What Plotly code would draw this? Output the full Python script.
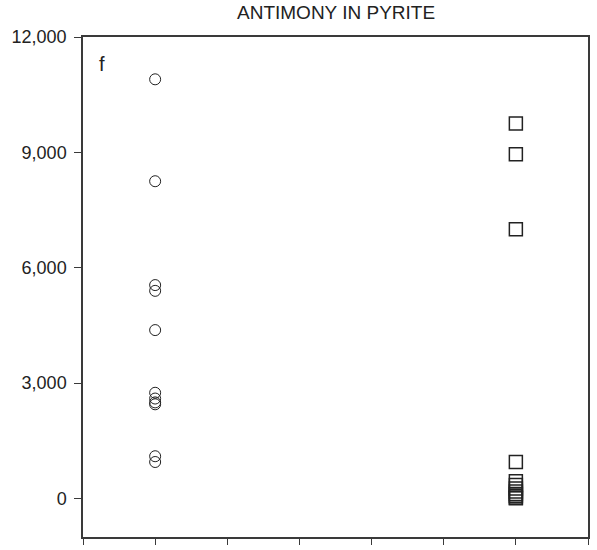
import plotly.graph_objects as go

# Antimony concentrations in pyrite for two sample groups
circle_values = [10900, 8250, 5550, 5400, 4380, 2750, 2600, 2500, 2450, 1100, 950]
square_values = [9750, 8950, 7000, 950, 450, 350, 260, 180, 120, 70, 30, 10]
circle_x = 1
square_x = 6

y_ticks = [0, 3000, 6000, 9000, 12000]
y_tick_labels = ["0", "3,000", "6,000", "9,000", "12,000"]
x_ticks = [0, 1, 2, 3, 4, 5, 6, 7]

axis_color = "#3a3a3a"
font_family = "Liberation Sans, Arial, sans-serif"

fig = go.Figure()
fig.add_trace(go.Scatter(
    x=[circle_x] * len(circle_values), y=circle_values, mode="markers",
    marker=dict(symbol="circle-open", size=11, color="#222222",
                line=dict(width=1, color="#222222")),
    showlegend=False,
))
fig.add_trace(go.Scatter(
    x=[square_x] * len(square_values), y=square_values, mode="markers",
    marker=dict(symbol="square-open", size=13, color="#222222",
                line=dict(width=1.5, color="#222222")),
    showlegend=False,
))

fig.update_layout(
    width=597, height=550,
    margin=dict(l=83, r=7, t=37, b=13),
    paper_bgcolor="white", plot_bgcolor="white",
    font=dict(family=font_family, size=18, color="#222222"),
    xaxis=dict(range=[0, 7], tickvals=x_ticks, showticklabels=False,
               ticks="outside", ticklen=6, tickwidth=1.2, tickcolor=axis_color,
               showline=True, linecolor=axis_color, linewidth=1.5, mirror=True,
               showgrid=False, zeroline=False),
    yaxis=dict(range=[-1000, 12000], tickvals=y_ticks, ticktext=y_tick_labels,
               ticks="outside", ticklen=7, tickwidth=1.2, tickcolor=axis_color,
               ticklabelstandoff=4,
               showline=True, linecolor=axis_color, linewidth=1.5, mirror=True,
               showgrid=False, zeroline=False),
    annotations=[
        dict(text="ANTIMONY IN PYRITE", xref="paper", yref="paper",
             x=0.5, y=1.0, yshift=25, xanchor="center", yanchor="middle",
             showarrow=False, font=dict(size=19, color="#222222")),
        dict(text="f", xref="paper", yref="paper", x=0.028, y=0.972,
             xanchor="left", yanchor="top", showarrow=False,
             font=dict(size=20, color="#222222")),
    ],
)

fig.write_html("out.html")
